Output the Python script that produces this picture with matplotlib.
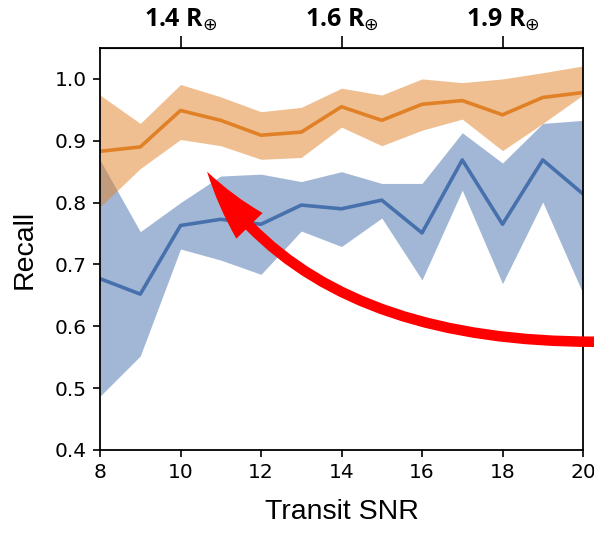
import matplotlib.pyplot as plt
import numpy as np

# transit SNR bins
snr = np.arange(8, 21)

# small planets (blue): mean recall and band
blue_mean = [0.677, 0.652, 0.763, 0.773, 0.765, 0.796, 0.790, 0.804, 0.751, 0.869, 0.765, 0.869, 0.814]
blue_hi = [0.869, 0.753, 0.800, 0.843, 0.846, 0.834, 0.850, 0.831, 0.831, 0.913, 0.864, 0.928, 0.933]
blue_lo = [0.487, 0.552, 0.725, 0.707, 0.684, 0.754, 0.729, 0.775, 0.675, 0.820, 0.669, 0.801, 0.653]

# orange series
orange_mean = [0.883, 0.890, 0.949, 0.933, 0.909, 0.914, 0.955, 0.933, 0.959, 0.965, 0.942, 0.970, 0.978]
orange_hi = [0.974, 0.928, 0.991, 0.971, 0.947, 0.954, 0.985, 0.974, 1.000, 0.994, 1.000, 1.010, 1.021]
orange_lo = [0.793, 0.855, 0.902, 0.892, 0.870, 0.873, 0.922, 0.892, 0.917, 0.935, 0.884, 0.928, 0.974]

# top axis: planet radius at given SNR
radius_snr = [10, 14, 18]
radius_labels = ['1.4', '1.6', '1.9']

blue = '#4771ad'
orange = '#e18127'

fig = plt.figure(figsize=(5.94, 5.35), dpi=100)
ax = fig.add_axes([0.1684, 0.1589, 0.8131, 0.7514])

ax.fill_between(snr, blue_lo, blue_hi, color=blue, alpha=0.5, lw=0)
ax.plot(snr, blue_mean, color=blue, lw=2.6)
ax.fill_between(snr, orange_lo, orange_hi, color=orange, alpha=0.5, lw=0)
ax.plot(snr, orange_mean, color=orange, lw=2.6)

ax.set_xlim(8, 20)
ax.set_ylim(0.4, 1.05)
ax.set_xticks(np.arange(8, 21, 2))
ax.set_yticks(np.arange(0.4, 1.01, 0.1))
ax.tick_params(labelsize=14.5, width=1.2, length=5, pad=4.5)
for s in ax.spines.values():
    s.set_linewidth(1.3)

ax.set_xlabel('Transit SNR', fontsize=20.5, family='Liberation Sans', labelpad=12)
ax.set_ylabel('Recall', fontsize=20.5, family='Liberation Sans', labelpad=12)

# top axis with planet radii
top = ax.secondary_xaxis('top')
top.set_xticks(radius_snr, [r + r' R$_{\oplus}$' for r in radius_labels])
top.tick_params(length=9, width=1.2, pad=2)
for lab in top.get_xticklabels():
    lab.set_family('Open Sans')
    lab.set_fontweight('bold')
    lab.set_fontsize(18)

# red curved arrow
ax.annotate('', xy=(10.66, 0.85), xytext=(20.3, 0.575),
            arrowprops=dict(arrowstyle='simple,head_length=1.5,head_width=0.8,tail_width=0.23',
                            mutation_scale=33, color='red', lw=0,
                            connectionstyle='angle3,angleA=0,angleB=122',
                            shrinkA=0, shrinkB=0),
            annotation_clip=False)

fig.savefig('out.png', dpi=100)
